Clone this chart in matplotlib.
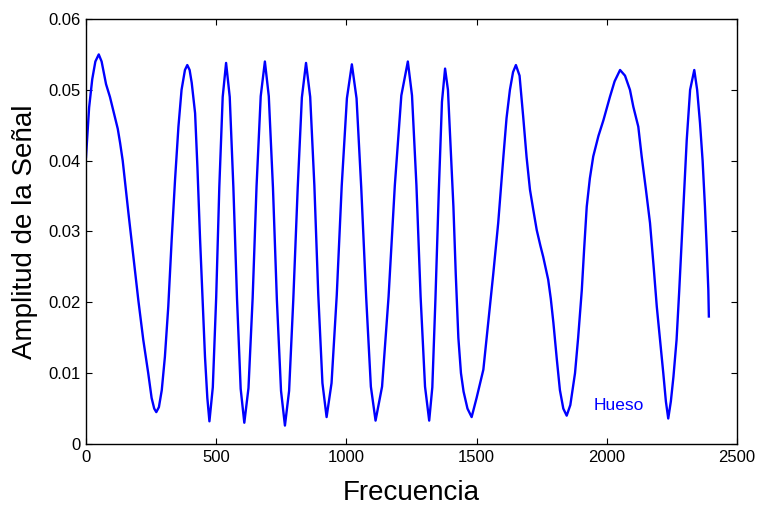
import matplotlib
matplotlib.use("Agg")
import matplotlib.pyplot as plt

plt.rcParams['font.family'] = ['Liberation Sans', 'DejaVu Sans']

freq = [0, 12, 24, 36, 49, 60, 77, 92, 102, 122, 131, 141, 163, 182, 201, 220, 239, 252, 262, 270,
        280, 291, 303, 316, 329, 342, 355, 367, 380, 389, 398, 406, 419, 428, 438, 448, 457, 466, 474,
        487, 500, 512, 525, 538, 552, 566, 580, 594, 608,
        624, 640, 655, 671, 687, 702, 718, 733, 749, 764,
        780, 796, 813, 829, 845, 861, 877, 892, 908, 924,
        943, 963, 982, 1002, 1021, 1039, 1057, 1076, 1094, 1112,
        1137, 1162, 1186, 1211, 1236, 1252, 1269, 1285, 1302, 1318,
        1330, 1342, 1355, 1367, 1379, 1390, 1400, 1411, 1420, 1430, 1440, 1450, 1465, 1481,
        1500, 1526, 1551, 1564, 1583, 1603, 1615, 1628, 1640, 1651,
        1665, 1679, 1692, 1705, 1718, 1731, 1745, 1756, 1775, 1785, 1795, 1808, 1820, 1833, 1846,
        1860, 1878, 1890, 1904, 1913, 1923, 1935, 1948, 1968, 1987, 2012, 2030, 2051, 2070, 2089,
        2102, 2121, 2134, 2150, 2166, 2180, 2192, 2205, 2217, 2227, 2236,
        2246, 2256, 2268, 2278, 2288, 2298, 2307, 2320, 2336, 2347, 2358, 2368, 2377, 2384, 2390, 2392]

amplitud = [0.0405, 0.0475, 0.0515, 0.0540, 0.0550, 0.0540, 0.0508, 0.0490, 0.0475, 0.0445, 0.0425,
            0.0400, 0.0326, 0.0264, 0.0203, 0.0147, 0.0100, 0.0065, 0.0050, 0.0045,
            0.0052, 0.0076, 0.0123, 0.0194, 0.0288, 0.0373, 0.0448, 0.0500, 0.0528, 0.0535, 0.0528,
            0.0510, 0.0467, 0.0390, 0.0290, 0.0203, 0.0123, 0.0065, 0.0032,
            0.0080, 0.0207, 0.0363, 0.0490, 0.0538, 0.0490, 0.0362, 0.0205, 0.0078, 0.0030,
            0.0079, 0.0206, 0.0364, 0.0491, 0.0540, 0.0491, 0.0362, 0.0204, 0.0075, 0.0026,
            0.0075, 0.0203, 0.0361, 0.0489, 0.0538, 0.0490, 0.0365, 0.0211, 0.0086, 0.0038,
            0.0086, 0.0210, 0.0364, 0.0488, 0.0536, 0.0488, 0.0362, 0.0207, 0.0081, 0.0033,
            0.0081, 0.0208, 0.0365, 0.0492, 0.0540, 0.0492, 0.0365, 0.0208, 0.0081, 0.0033,
            0.0080, 0.0205, 0.0358, 0.0483, 0.0530, 0.0500, 0.0420, 0.0335, 0.0240, 0.0150, 0.0100,
            0.0074, 0.0050, 0.0038,
            0.0065, 0.0105, 0.0194, 0.0240, 0.0312, 0.0406, 0.0460, 0.0500, 0.0525, 0.0535,
            0.0520, 0.0462, 0.0405, 0.0359, 0.0330, 0.0302, 0.0280, 0.0264, 0.0232, 0.0205, 0.0171,
            0.0120, 0.0076, 0.0050, 0.0040,
            0.0055, 0.0100, 0.0150, 0.0217, 0.0275, 0.0335, 0.0375, 0.0406, 0.0435, 0.0457, 0.0490,
            0.0512, 0.0528, 0.0520, 0.0500,
            0.0476, 0.0448, 0.0406, 0.0360, 0.0312, 0.0250, 0.0194, 0.0145, 0.0100, 0.0060, 0.0036,
            0.0060, 0.0095, 0.0147, 0.0215, 0.0288, 0.0360, 0.0429, 0.0500, 0.0528, 0.0500, 0.0453,
            0.0400, 0.0335, 0.0275, 0.0217, 0.0180]

xticks = [0, 500, 1000, 1500, 2000, 2500]
yticks = [0, 0.01, 0.02, 0.03, 0.04, 0.05, 0.06]
ytick_labels = ['0', '0.01', '0.02', '0.03', '0.04', '0.05', '0.06']

fig = plt.figure(figsize=(7.63, 5.08), dpi=100)
ax = fig.add_axes([0.1127, 0.126, 0.8532, 0.8366])
ax.plot(freq, amplitud, color=(0, 0, 1), linewidth=1.7)
ax.set_xlim(0, 2500)
ax.set_ylim(0, 0.06)
ax.set_xticks(xticks)
ax.set_xticklabels([str(t) for t in xticks])
ax.set_yticks(yticks)
ax.set_yticklabels(ytick_labels)
ax.tick_params(direction='in', top=True, right=True, length=4, width=0.8,
               labelsize=12, pad=4)
for s in ax.spines.values():
    s.set_linewidth(1.0)
ax.set_xlabel('Frecuencia', fontsize=20, labelpad=11)
ax.set_ylabel('Amplitud de la Señal', fontsize=20, labelpad=7)
ax.text(1950, 0.0055, 'Hueso', color=(0, 0, 1), fontsize=12.5, va='center', ha='left')

fig.savefig('out.png', dpi=100)
